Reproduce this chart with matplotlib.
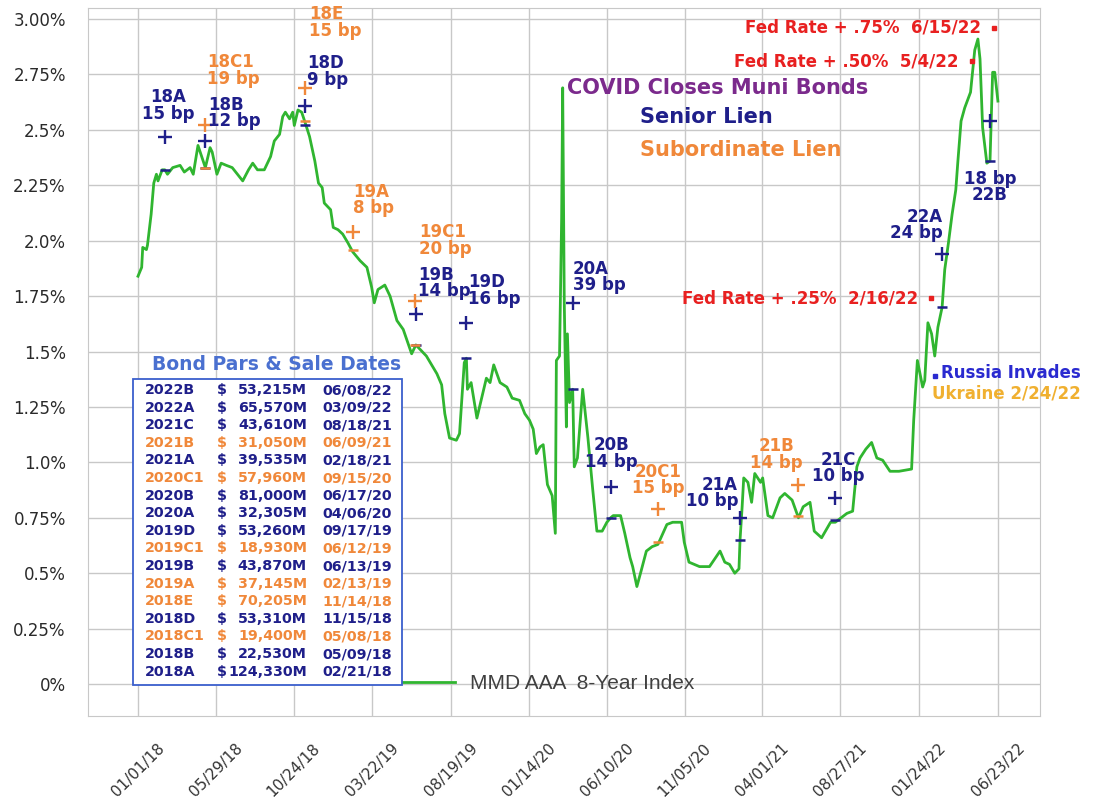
import numpy as np
import pandas as pd
import matplotlib
matplotlib.use("Agg")
import matplotlib.pyplot as plt
from matplotlib.lines import Line2D
from matplotlib.patches import Rectangle

# MMD AAA 8-year index (percent)
mmd_dates = [
    "2018-01-01", "2018-01-08", "2018-01-10", "2018-01-17", "2018-01-19", "2018-01-26",
    "2018-01-31", "2018-02-05", "2018-02-08", "2018-02-16", "2018-02-21", "2018-02-26",
    "2018-03-08", "2018-03-22", "2018-03-30", "2018-04-10", "2018-04-16", "2018-04-25",
    "2018-05-02", "2018-05-09", "2018-05-18", "2018-05-22", "2018-05-31", "2018-06-08",
    "2018-06-18", "2018-06-29", "2018-07-09", "2018-07-19", "2018-07-30", "2018-08-07",
    "2018-08-16", "2018-08-29", "2018-09-10", "2018-09-17", "2018-09-27", "2018-10-03",
    "2018-10-08", "2018-10-16", "2018-10-22", "2018-10-25", "2018-11-01", "2018-11-08",
    "2018-11-15", "2018-11-23", "2018-12-03", "2018-12-10", "2018-12-17", "2018-12-21",
    "2019-01-02", "2019-01-07", "2019-01-16", "2019-01-25", "2019-02-04", "2019-02-13",
    "2019-02-27", "2019-03-12", "2019-03-21", "2019-03-26", "2019-04-02", "2019-04-15",
    "2019-04-25", "2019-05-08", "2019-05-20", "2019-06-05", "2019-06-13", "2019-06-21",
    "2019-07-03", "2019-07-23", "2019-08-01", "2019-08-07", "2019-08-16", "2019-08-29",
    "2019-09-04", "2019-09-13", "2019-09-17", "2019-09-19", "2019-09-26", "2019-10-07",
    "2019-10-16", "2019-10-25", "2019-11-01", "2019-11-08", "2019-11-20", "2019-12-03",
    "2019-12-13", "2019-12-27", "2020-01-06", "2020-01-15", "2020-01-22", "2020-01-28",
    "2020-02-04", "2020-02-10", "2020-02-18", "2020-02-27", "2020-03-04", "2020-03-06",
    "2020-03-12", "2020-03-16", "2020-03-18", "2020-03-21", "2020-03-25", "2020-03-27",
    "2020-03-31", "2020-04-06", "2020-04-09", "2020-04-15", "2020-04-25", "2020-05-05",
    "2020-05-14", "2020-05-22", "2020-06-01", "2020-06-10", "2020-06-17", "2020-06-22",
    "2020-07-06", "2020-07-14", "2020-07-24", "2020-07-29", "2020-08-06", "2020-08-14",
    "2020-08-24", "2020-09-04", "2020-09-15", "2020-10-02", "2020-10-13", "2020-10-30",
    "2020-11-04", "2020-11-13", "2020-12-03", "2020-12-22", "2021-01-11", "2021-01-20",
    "2021-01-29", "2021-02-08", "2021-02-12", "2021-02-16", "2021-02-18", "2021-02-22",
    "2021-02-25", "2021-03-05", "2021-03-12", "2021-03-18", "2021-03-29", "2021-04-02",
    "2021-04-12", "2021-04-21", "2021-05-05", "2021-05-14", "2021-05-28", "2021-06-09",
    "2021-06-18", "2021-07-01", "2021-07-09", "2021-07-23", "2021-08-09", "2021-08-18",
    "2021-09-09", "2021-09-20", "2021-09-28", "2021-10-04", "2021-10-15", "2021-10-26",
    "2021-11-05", "2021-11-16", "2021-11-30", "2021-12-17", "2022-01-10", "2022-01-14",
    "2022-01-21", "2022-01-31", "2022-02-04", "2022-02-10", "2022-02-17", "2022-02-23",
    "2022-03-01", "2022-03-09", "2022-03-14", "2022-03-21", "2022-03-28", "2022-04-04",
    "2022-04-08", "2022-04-14", "2022-04-21", "2022-05-02", "2022-05-10", "2022-05-16",
    "2022-05-20", "2022-05-25", "2022-06-02", "2022-06-08", "2022-06-13", "2022-06-17",
    "2022-06-23",
]
mmd_yield = [
    1.84, 1.88, 1.97, 1.96, 1.98, 2.12,
    2.26, 2.30, 2.27, 2.32, 2.32, 2.30,
    2.33, 2.34, 2.31, 2.33, 2.30, 2.43,
    2.38, 2.33, 2.42, 2.40, 2.30, 2.35,
    2.34, 2.33, 2.30, 2.27, 2.32, 2.35,
    2.32, 2.32, 2.38, 2.45, 2.48, 2.56,
    2.58, 2.55, 2.58, 2.52, 2.59, 2.58,
    2.53, 2.47, 2.36, 2.26, 2.24, 2.17,
    2.14, 2.06, 2.05, 2.03, 1.99, 1.95,
    1.91, 1.88, 1.79, 1.72, 1.78, 1.80,
    1.75, 1.64, 1.60, 1.49, 1.53, 1.51,
    1.48, 1.40, 1.35, 1.22, 1.11, 1.10,
    1.13, 1.45, 1.47, 1.33, 1.36, 1.20,
    1.29, 1.38, 1.36, 1.44, 1.36, 1.34,
    1.29, 1.28, 1.22, 1.19, 1.15, 1.04,
    1.07, 1.08, 0.90, 0.85, 0.68, 1.46,
    1.48, 2.10, 2.69, 1.72, 1.16, 1.58,
    1.27, 1.33, 0.98, 1.02, 1.33, 1.11,
    0.88, 0.69, 0.69, 0.73, 0.75, 0.76,
    0.76, 0.68, 0.57, 0.53, 0.44, 0.51,
    0.60, 0.62, 0.63, 0.72, 0.73, 0.73,
    0.64, 0.55, 0.53, 0.53, 0.60, 0.55,
    0.54, 0.50, 0.51, 0.52, 0.65, 0.80,
    0.93, 0.91, 0.82, 0.95, 0.91, 0.93,
    0.76, 0.75, 0.84, 0.86, 0.83, 0.75,
    0.80, 0.82, 0.69, 0.66, 0.73, 0.73,
    0.77, 0.78, 0.98, 1.02, 1.06, 1.09,
    1.02, 1.01, 0.96, 0.96, 0.97, 1.19,
    1.46, 1.34, 1.37, 1.63, 1.58, 1.48,
    1.61, 1.70, 1.87, 1.99, 2.12, 2.23,
    2.36, 2.54, 2.60, 2.67, 2.86, 2.91,
    2.82, 2.51, 2.35, 2.36, 2.76, 2.76,
    2.63,
]

# bond sales: series, sale date, spread (bp), MMD on sale date, lien
bond_names = ["18A", "18B", "18C1", "18D", "18E", "19A", "19B", "19C1", "19D",
              "20A", "20B", "20C1", "21A", "21B", "21C", "22A", "22B"]
bond_dates = ["2018-02-21", "2018-05-09", "2018-05-08", "2018-11-15", "2018-11-14",
              "2019-02-13", "2019-06-13", "2019-06-12", "2019-09-17", "2020-04-06",
              "2020-06-17", "2020-09-15", "2021-02-18", "2021-06-09", "2021-08-18",
              "2022-03-09", "2022-06-08"]
bond_spread = [15, 12, 19, 9, 15, 8, 14, 20, 16, 39, 14, 15, 10, 14, 10, 24, 18]
bond_mmd = [2.32, 2.33, 2.33, 2.52, 2.54, 1.96, 1.53, 1.53, 1.47, 1.33,
            0.75, 0.64, 0.65, 0.76, 0.74, 1.70, 2.36]
bond_lien = ["S", "S", "J", "S", "J", "J", "S", "J", "S", "S",
             "S", "J", "S", "J", "S", "S", "S"]

# table of bond pars
table_series = ["2022B", "2022A", "2021C", "2021B", "2021A", "2020C1", "2020B", "2020A",
                "2019D", "2019C1", "2019B", "2019A", "2018E", "2018D", "2018C1",
                "2018B", "2018A"]
table_par = ["53,215M", "65,570M", "43,610M", "31,050M", "39,535M", "57,960M", "81,000M",
             "32,305M", "53,260M", "18,930M", "43,870M", "37,145M", "70,205M",
             "53,310M", "19,400M", "22,530M", "124,330M"]
table_sale = ["06/08/22", "03/09/22", "08/18/21", "06/09/21", "02/18/21", "09/15/20",
              "06/17/20", "04/06/20", "09/17/19", "06/12/19", "06/13/19", "02/13/19",
              "11/14/18", "11/15/18", "05/08/18", "05/09/18", "02/21/18"]
table_lien = ["S", "S", "S", "J", "S", "J", "S", "S", "S", "J", "S", "J", "J", "S",
              "J", "S", "S"]

# Fed rate hikes
fed_dates = ["2022-02-16", "2022-05-04", "2022-06-15"]
fed_level = [1.74, 2.81, 2.96]
fed_text = ["Fed Rate + .25%  2/16/22", "Fed Rate + .50%  5/4/22", "Fed Rate + .75%  6/15/22"]

russia_date = "2022-02-24"
russia_level = 1.39

xtick_dates = ["2018-01-01", "2018-05-29", "2018-10-24", "2019-03-22", "2019-08-19",
               "2020-01-14", "2020-06-10", "2020-11-05", "2021-04-01", "2021-08-27",
               "2022-01-24", "2022-06-23"]
xtick_labels = ["01/01/18", "05/29/18", "10/24/18", "03/22/19", "08/19/19", "01/14/20",
                "06/10/20", "11/05/20", "04/01/21", "08/27/21", "01/24/22", "06/23/22"]
ytick_vals = [0, 0.25, 0.5, 0.75, 1.0, 1.25, 1.5, 1.75, 2.0, 2.25, 2.5, 2.75, 3.0]
ytick_labels = ["0%", "0.25%", "0.5%", "0.75%", "1.0%", "1.25%", "1.5%", "1.75%",
                "2.0%", "2.25%", "2.5%", "2.75%", "3.00%"]

NAVY = "#1f1f8a"
ORANGE = "#f0883a"
GREEN = "#30b530"
RED = "#e82020"

# label offsets (pixels) and alignment for each bond label
label_pos = {
    "18A": (3, 31, "center"), "18B": (3, 28, "left"), "18C1": (2, 55, "left"),
    "18D": (2, 34, "left"), "18E": (4, 65, "left"), "19A": (0, 32, "left"),
    "19B": (2, 31, "left"), "19C1": (4, 60, "left"), "19D": (2, 32, "left"),
    "20A": (0, 26, "left"), "20B": (1, 33, "center"), "20C1": (0, 29, "center"),
    "21A": (-2, 25, "right"), "21B": (-22, 30, "center"), "21C": (3, 30, "center"),
    "22A": (1, 29, "right"), "22B": (0, -66, "center"),
}

fig = plt.figure(figsize=(10.95, 8.05), dpi=100)
ax = fig.add_axes([88 / 1095, 1 - 716 / 805, 952 / 1095, 708 / 805])

x = pd.to_datetime(mmd_dates)
line, = ax.plot(x, mmd_yield, color=GREEN, lw=2.0, zorder=3)

ax.set_xlim(pd.Timestamp("2017-09-28"), pd.Timestamp("2022-09-11"))
ax.set_ylim(-0.144, 3.05)
ax.set_xticks(pd.to_datetime(xtick_dates))
ax.set_xticklabels(xtick_labels, rotation=45, ha="center", va="top",
                   fontsize=11, color="#333333")
ax.set_yticks(ytick_vals)
ax.set_yticklabels(ytick_labels, fontsize=12, color="#2a2a2a")
ax.tick_params(axis="x", length=0, pad=18)
ax.tick_params(axis="y", length=0, pad=16)
ax.grid(True, color="#c8c8c8", lw=1)
ax.set_axisbelow(True)
for s in ax.spines.values():
    s.set_color("#c8c8c8")

# bond markers and labels
bd = pd.to_datetime(bond_dates)
for i, name in enumerate(bond_names):
    c = NAVY if bond_lien[i] == "S" else ORANGE
    top = bond_mmd[i] + bond_spread[i] / 100
    ax.plot(bd[i], top, marker="+", ms=10, mew=1.7, color=c, zorder=5)
    ax.plot(bd[i], bond_mmd[i], marker="_", ms=7, mew=1.8, color=c, zorder=5)
    dx, dy, ha = label_pos[name]
    if name == "22B":
        txt = "%d bp\n%s" % (bond_spread[i], name)
    else:
        txt = "%s\n%d bp" % (name, bond_spread[i])
    ax.annotate(txt, xy=(bd[i], top), xytext=(dx, dy), textcoords="offset pixels",
                ha=ha, va="center", fontsize=12, fontweight="bold", color=c,
                linespacing=0.9, zorder=6)

# Fed rate hikes
fd = pd.to_datetime(fed_dates)
for i in range(len(fed_dates)):
    ax.plot(fd[i], fed_level[i], marker="s", ms=3.5, color=RED, zorder=5)
    ax.annotate(fed_text[i], xy=(fd[i], fed_level[i]), xytext=(-13, 0),
                textcoords="offset pixels", ha="right", va="center",
                fontsize=12, fontweight="bold", color=RED)

rd = pd.Timestamp(russia_date)
ax.plot(rd, russia_level, marker="s", ms=3.5, color="#2a2ad0", zorder=5)
ax.annotate("Russia Invades", xy=(rd, russia_level), xytext=(6, 3),
            textcoords="offset pixels", ha="left", va="center",
            fontsize=12, fontweight="bold", color="#2a2ad0")
ax.annotate("Ukraine 2/24/22", xy=(rd, russia_level), xytext=(-3, -18),
            textcoords="offset pixels", ha="left", va="center",
            fontsize=12, fontweight="bold", color="#f0b030")

# headline texts
ax.text(0.503, 0.887, "COVID Closes Muni Bonds", transform=ax.transAxes,
        fontsize=15, fontweight="bold", color="#7b2a8c", ha="left", va="center")
ax.text(0.580, 0.846, "Senior Lien", transform=ax.transAxes,
        fontsize=15, fontweight="bold", color=NAVY, ha="left", va="center")
ax.text(0.580, 0.799, "Subordinate Lien", transform=ax.transAxes,
        fontsize=15, fontweight="bold", color=ORANGE, ha="left", va="center")

# bond pars table
ax.add_patch(Rectangle((0.0473, 0.0438), 0.2825, 0.4322, transform=ax.transAxes,
                       fill=True, facecolor="white", edgecolor="#3a5fcd", lw=1.3,
                       zorder=7))
ax.text(0.198, 0.4958, "Bond Pars & Sale Dates", transform=ax.transAxes,
        fontsize=13.5, fontweight="bold", color="#4a70d0", ha="center", va="center",
        zorder=8)
for i in range(len(table_series)):
    c = NAVY if table_lien[i] == "S" else ORANGE
    yy = (716 - (390 + i * 17.6)) / 708
    kw = dict(transform=ax.transAxes, fontsize=10.3, fontweight="bold", color=c,
              va="center", zorder=8)
    ax.text(0.0599, yy, table_series[i], ha="left", **kw)
    ax.text(0.1355, yy, "$", ha="left", **kw)
    ax.text(0.2300, yy, table_par[i], ha="right", **kw)
    ax.text(0.2830, yy, table_sale[i], ha="center", **kw)

# legend entry
ax.legend([Line2D([], [], color=GREEN, lw=2.0)], ["MMD AAA  8-Year Index"],
          loc="center left", bbox_to_anchor=(0.331, 0.0452), frameon=False,
          handlelength=2.5, handletextpad=0.7, borderpad=0, borderaxespad=0,
          prop={"family": "Liberation Sans", "size": 15}, labelcolor="#404040")

fig.savefig("out.png", dpi=100)
